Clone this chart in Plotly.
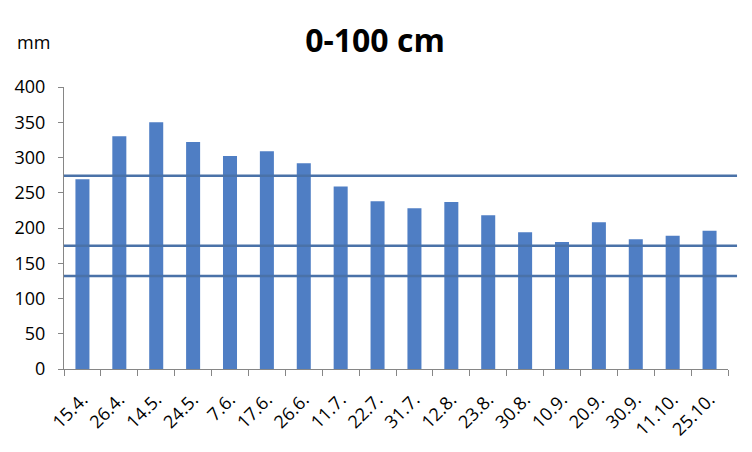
import plotly.graph_objects as go

dates = ["15.4.", "26.4.", "14.5.", "24.5.", "7.6.", "17.6.", "26.6.", "11.7.", "22.7.",
         "31.7.", "12.8.", "23.8.", "30.8.", "10.9.", "20.9.", "30.9.", "11.10.", "25.10."]
values = [269, 330, 350, 322, 302, 309, 292, 259, 238,
          228, 237, 218, 194, 180, 208, 184, 189, 196]
ref_lines = [274, 175, 132]
y_ticks = [0, 50, 100, 150, 200, 250, 300, 350, 400]

fig = go.Figure()
fig.add_trace(go.Bar(x=dates, y=values, marker_color="#4F7EC4", marker_line_width=0))

for v in ref_lines:
    fig.add_shape(type="line", xref="paper", yref="y", x0=0, x1=1.0136, y0=v, y1=v,
                  line=dict(color="#4A72A8", width=2.5))

fig.update_layout(
    width=744, height=444,
    margin=dict(l=56, r=24, t=79, b=83, autoexpand=False),
    paper_bgcolor="white", plot_bgcolor="white",
    showlegend=False,
    bargap=0.62,
    font=dict(family="Open Sans, Liberation Sans, sans-serif", color="black"),
    title=dict(text="<b>0-100 cm</b>", x=0.4933, xanchor="center", y=0.9257, yanchor="middle",
               font=dict(size=32, color="black")),
)
fig.add_annotation(text="mm", xref="paper", yref="paper", x=-0.0738, y=1.16,
                   xanchor="left", yanchor="middle", showarrow=False,
                   font=dict(size=18, color="black"))

fig.update_xaxes(type="category", tickangle=-45, tickfont=dict(size=18),
                 showline=True, linecolor="#868686", linewidth=1,
                 ticks="outside", ticklen=6, tickcolor="#868686", tickson="boundaries",
                 ticklabelstandoff=12,
                 showgrid=False, automargin=False)
fig.update_yaxes(range=[0, 400], tickvals=y_ticks, tickfont=dict(size=18),
                 showline=True, linecolor="#868686", linewidth=1,
                 ticks="outside", ticklen=5, tickcolor="#868686", ticklabelstandoff=9,
                 showgrid=False, zeroline=False, automargin=False)

fig.write_html("out.html")
